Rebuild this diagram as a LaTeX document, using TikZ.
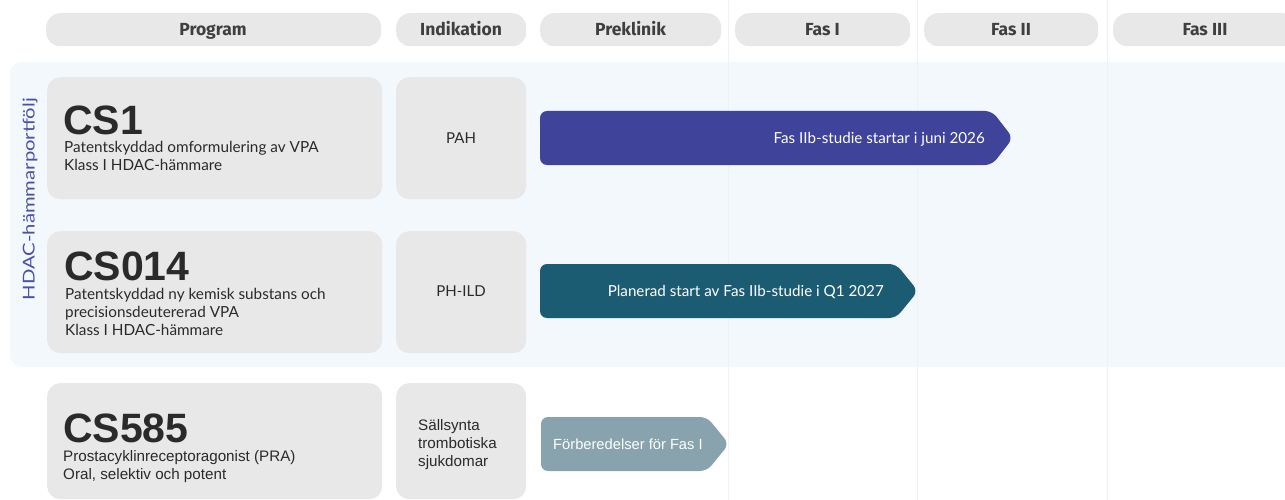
\documentclass[tikz,border=0pt]{standalone}
\usepackage{fontspec}
\setmainfont{Lato}
\newfontfamily\titlefont{Liberation Sans}
\newfontfamily\headfont{Fira Sans}
\newfontfamily\condfont{Liberation Sans}
\definecolor{boxgray}{HTML}{E8E8E8}
\definecolor{bandblue}{HTML}{F3F8FC}
\definecolor{sepline}{HTML}{EFF2F5}
\definecolor{indigo}{HTML}{3F4399}
\definecolor{tealbar}{HTML}{1C5C72}
\definecolor{graybar}{HTML}{89A3AE}
\definecolor{txt}{HTML}{2A2A2A}
\definecolor{labelblue}{HTML}{4A4FA8}
\tikzset{
  pill/.style={fill=boxgray, rounded corners=14pt, inner sep=0pt, anchor=north west},
  gbox/.style={fill=boxgray, rounded corners=13pt, inner sep=0pt, anchor=north west},
  headtxt/.style={font=\headfont\fontsize{17.5}{18}\selectfont\bfseries, text=txt!90, anchor=base, inner sep=0pt},
  cstitle/.style={font=\titlefont\fontsize{41}{41}\selectfont\bfseries, text=txt, anchor=base west, inner sep=0pt},
  desc/.style={font=\fontsize{15.3}{18}\selectfont, text=txt, anchor=base west, inner sep=0pt},
  cdesc/.style={font=\condfont\fontsize{15.2}{18}\selectfont, text=txt, anchor=base west, inner sep=0pt},
  bartxt/.style={font=\fontsize{15.2}{16}\selectfont, text=white, inner sep=0pt},
}
\begin{document}
\begin{tikzpicture}[x=1pt,y=-1pt]
\useasboundingbox (0,0) rectangle (1285,500);
\clip (0,0) rectangle (1285,500);
\fill[white] (0,0) rectangle (1285,500);
% band
\fill[bandblue, rounded corners=12pt] (10,62) rectangle (1310,367);
% separators
\foreach \sx in {728,917,1107} \draw[sepline, line width=1pt] (\sx,0) -- (\sx,500);
% header pills
\node[pill, minimum width=335pt, minimum height=33pt] (hprog) at (46,13) {};
\node[headtxt] (hprogt) at (213,35.5) {Program};
\node[pill, minimum width=130pt, minimum height=33pt] (hind) at (396,13) {};
\node[headtxt] (hindt) at (461,35.5) {Indikation};
\node[pill, minimum width=181pt, minimum height=33pt] (hpre) at (540,13) {};
\node[headtxt] (hpret) at (630.5,35.5) {Preklinik};
\node[pill, minimum width=175pt, minimum height=33pt] (hf1) at (735,13) {};
\node[headtxt] (hf1t) at (822.5,35.5) {Fas I};
\node[pill, minimum width=174pt, minimum height=33pt] (hf2) at (924,13) {};
\node[headtxt] (hf2t) at (1011,35.5) {Fas II};
\node[pill, minimum width=184pt, minimum height=33pt] (hf3) at (1113,13) {};
\node[headtxt] (hf3t) at (1205,35.5) {Fas III};
% vertical label
\node[rotate=90, inner sep=0pt, text=labelblue] (vlab) at (30,199) {\resizebox{202pt}{12pt}{\fontsize{16}{16}\selectfont HDAC-hämmarportfölj}};
% program boxes
\node[gbox, minimum width=335pt, minimum height=122pt] (p1) at (47,77) {};
\node[gbox, minimum width=335pt, minimum height=122pt] (p2) at (47,231) {};
\node[gbox, minimum width=335pt, minimum height=116pt] (p3) at (47,383) {};
\node[gbox, minimum width=130pt, minimum height=122pt] (i1) at (396,77) {};
\node[gbox, minimum width=130pt, minimum height=122pt] (i2) at (396,231) {};
\node[gbox, minimum width=130pt, minimum height=116pt] (i3) at (396,383) {};
% program texts
\node[cstitle] (t1) at (63,135) {CS1};
\node[desc] (d1a) at (64,153) {Patentskyddad omformulering av VPA};
\node[desc] (d1b) at (64,171) {Klass I HDAC-hämmare};
\node[cstitle] (t2) at (64,280) {CS014};
\node[desc] (d2a) at (65,299) {Patentskyddad ny kemisk substans och};
\node[desc] (d2b) at (65,317) {precisionsdeutererad VPA};
\node[desc] (d2c) at (65,335) {Klass I HDAC-hämmare};
\node[cstitle] (t3) at (63,442.5) {CS585};
\node[cdesc] (d3a) at (63,461) {Prostacyklinreceptoragonist (PRA)};
\node[cdesc] (d3b) at (63,479) {Oral, selektiv och potent};
% indication texts
\node[font=\fontsize{15}{18}\selectfont, text=txt] (n1) at (461,138) {PAH};
\node[font=\fontsize{15}{18}\selectfont, text=txt] (n2) at (461,291) {PH-ILD};
\node[cdesc] (n3a) at (418,430) {Sällsynta};
\node[cdesc] (n3b) at (418,448) {trombotiska};
\node[cdesc] (n3c) at (418,466) {sjukdomar};
% bars
\fill[indigo, rounded corners=7pt] (540,111) -- (992,111) -- (1013,138) -- (992,165) -- (540,165) -- cycle;
\node[bartxt, anchor=base east] (b1) at (985,144) {Fas IIb-studie startar i juni 2026};
\fill[tealbar, rounded corners=7pt] (540,264) -- (896,264) -- (918,291) -- (896,318) -- (540,318) -- cycle;
\node[bartxt, anchor=base east] (b2) at (884,296.5) {Planerad start av Fas IIb-studie i Q1 2027};
\fill[graybar, rounded corners=7pt] (541,417) -- (707,417) -- (729,444) -- (707,471) -- (541,471) -- cycle;
\node[bartxt, font=\condfont\fontsize{14.7}{16}\selectfont, anchor=base west] (b3) at (553,449.5) {Förberedelser för Fas I};
\end{tikzpicture}
\end{document}
